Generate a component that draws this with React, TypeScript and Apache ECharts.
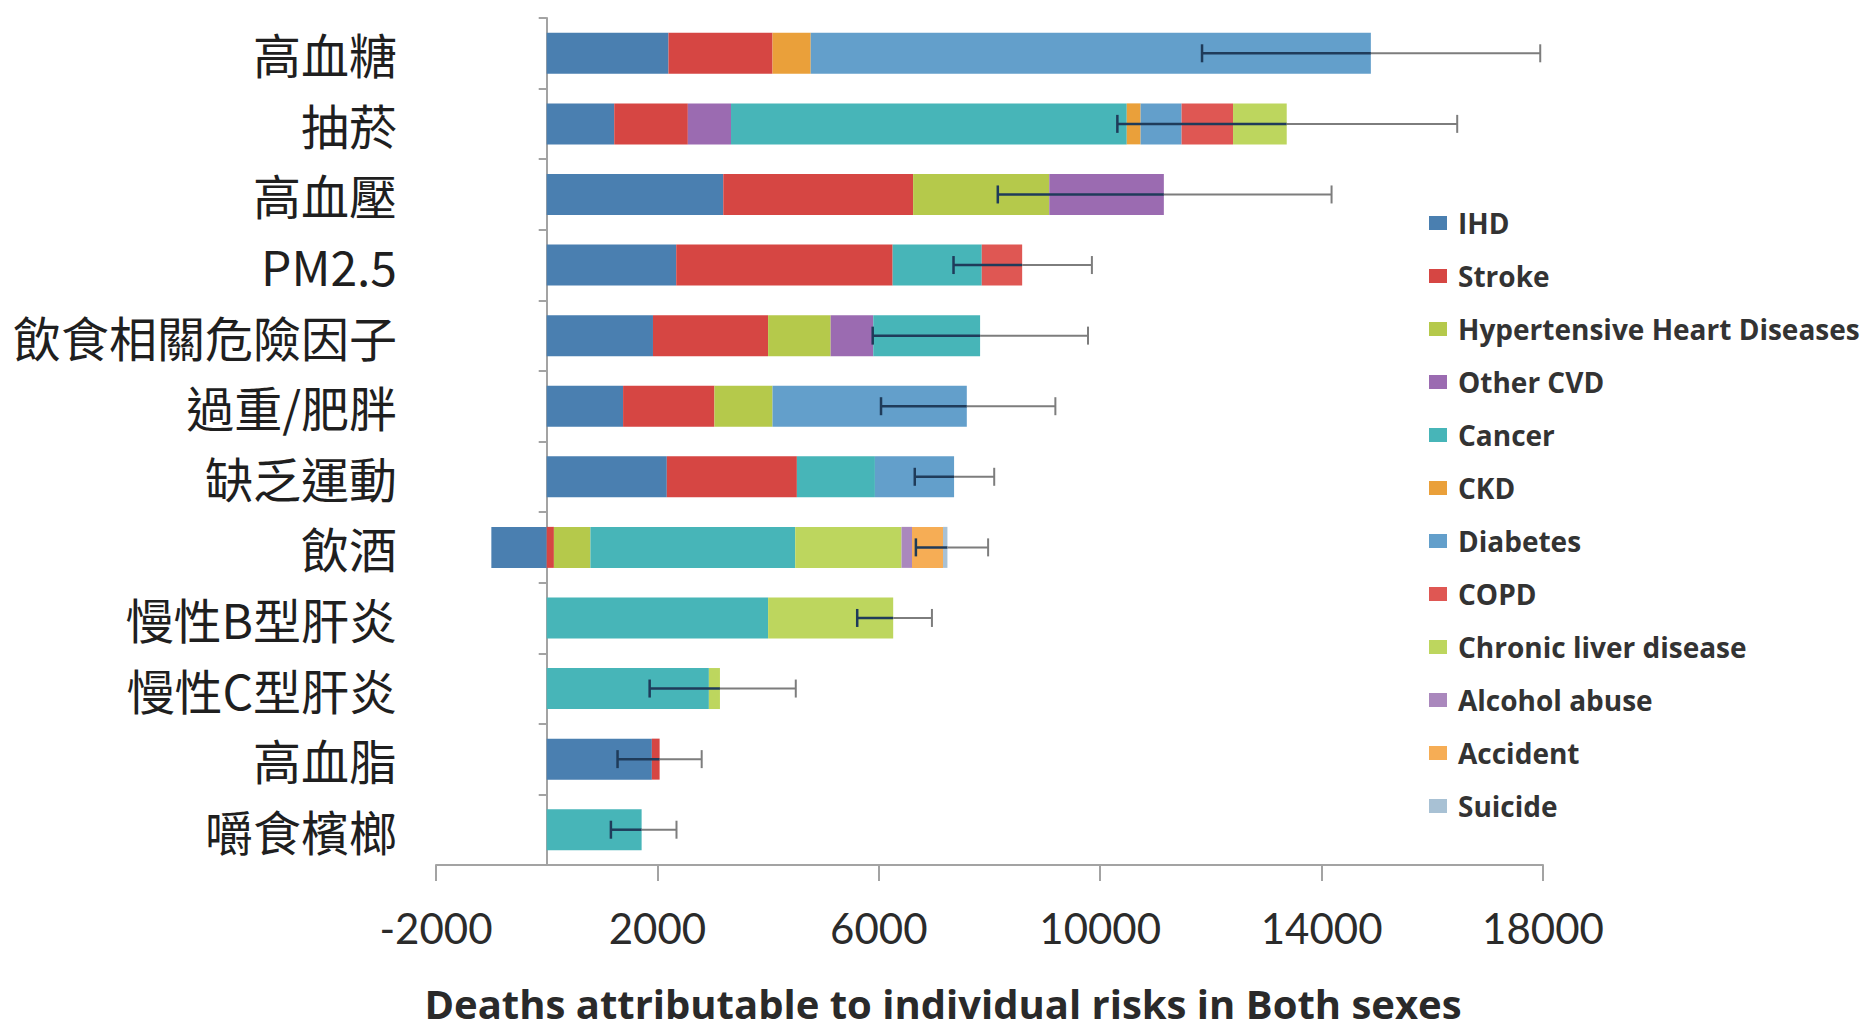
import React, { useEffect, useRef } from "react";
import * as echarts from "echarts";

const categories = [
  "高血糖",
  "抽菸",
  "高血壓",
  "PM2.5",
  "飲食相關危險因子",
  "過重/肥胖",
  "缺乏運動",
  "飲酒",
  "慢性B型肝炎",
  "慢性C型肝炎",
  "高血脂",
  "嚼食檳榔",
];

const causeNames = [
  "IHD",
  "Stroke",
  "Hypertensive Heart Diseases",
  "Other CVD",
  "Cancer",
  "CKD",
  "Diabetes",
  "COPD",
  "Chronic liver disease",
  "Alcohol abuse",
  "Accident",
  "Suicide",
];

const causeColors = [
  "#4a7fb0",
  "#d64643",
  "#b5c94b",
  "#9b6bb1",
  "#47b5b8",
  "#eaa03a",
  "#639fcb",
  "#df5753",
  "#bdd65e",
  "#aa88bd",
  "#f6ad55",
  "#a8c1d4",
];

const ihd = [2200, 1220, 3190, 2340, 1920, 1380, 2170, -1000, 0, 0, 1900, 0];
const stroke = [1880, 1330, 3430, 3910, 2080, 1650, 2350, 130, 0, 0, 140, 0];
const hhd = [0, 0, 2460, 0, 1130, 1050, 0, 660, 0, 0, 0, 0];
const otherCvd = [0, 780, 2070, 0, 770, 0, 0, 0, 0, 0, 0, 0];
const cancer = [0, 7150, 0, 1610, 1930, 0, 1410, 3700, 4000, 2930, 0, 1715];
const ckd = [690, 250, 0, 0, 0, 0, 0, 0, 0, 0, 0, 0];
const diabetes = [10120, 740, 0, 0, 0, 3510, 1430, 0, 0, 0, 0, 0];
const copd = [0, 930, 0, 730, 0, 0, 0, 0, 0, 0, 0, 0];
const chronicLiver = [0, 970, 0, 0, 0, 0, 0, 1920, 2260, 200, 0, 0];
const alcoholAbuse = [0, 0, 0, 0, 0, 0, 0, 190, 0, 0, 0, 0];
const accident = [0, 0, 0, 0, 0, 0, 0, 560, 0, 0, 0, 0];
const suicide = [0, 0, 0, 0, 0, 0, 0, 80, 0, 0, 0, 0];

const errLow = [11840, 10310, 8150, 7350, 5890, 6040, 6650, 6670, 5610, 1860, 1280, 1160];
const errHigh = [17950, 16450, 14180, 9850, 9780, 9190, 8085, 7975, 6960, 4500, 2800, 2345];

const xTicks = [-2000, 2000, 6000, 10000, 14000, 18000];

const seriesValues = [
  ihd,
  stroke,
  hhd,
  otherCvd,
  cancer,
  ckd,
  diabetes,
  copd,
  chronicLiver,
  alcoholAbuse,
  accident,
  suicide,
];

export default function App() {
  const ref = useRef<HTMLDivElement>(null);

  useEffect(() => {
    if (!ref.current) return;
    const chart = echarts.init(ref.current, null, { renderer: "svg" });

    const totals = categories.map((_, i) =>
      seriesValues.reduce((s, arr) => s + (arr[i] > 0 ? arr[i] : 0), 0)
    );

    const barSeries = causeNames.map((name, k) => ({
      name,
      type: "bar",
      stack: "total",
      barWidth: 41,
      itemStyle: { color: causeColors[k] },
      data: seriesValues[k],
      xAxisIndex: 0,
      yAxisIndex: 0,
    }));

    const errSeries = {
      type: "custom",
      name: "err",
      xAxisIndex: 0,
      yAxisIndex: 0,
      z: 10,
      encode: { x: [1, 2, 3], y: 0 },
      data: categories.map((_, i) => [i, errLow[i], errHigh[i], totals[i]]),
      renderItem: (params: any, api: any) => {
        const cat = api.value(0);
        const low = api.value(1);
        const high = api.value(2);
        const total = api.value(3);
        const pLow = api.coord([low, cat]);
        const pHigh = api.coord([high, cat]);
        const pTot = api.coord([total, cat]);
        const y = pLow[1];
        const h = 9;
        const dark = "#1f3b5a";
        const gray = "#7d7d7d";
        const mid = Math.min(pTot[0], pHigh[0]);
        const children: any[] = [
          {
            type: "line",
            shape: { x1: pLow[0], y1: y, x2: mid, y2: y },
            style: { stroke: dark, lineWidth: 2.5 },
          },
          {
            type: "line",
            shape: { x1: pLow[0], y1: y - h, x2: pLow[0], y2: y + h },
            style: { stroke: dark, lineWidth: 2.5 },
          },
        ];
        if (pHigh[0] > mid) {
          children.push({
            type: "line",
            shape: { x1: mid, y1: y, x2: pHigh[0], y2: y },
            style: { stroke: gray, lineWidth: 2 },
          });
        }
        children.push({
          type: "line",
          shape: { x1: pHigh[0], y1: y - h, x2: pHigh[0], y2: y + h },
          style: { stroke: pHigh[0] > mid ? gray : dark, lineWidth: 2 },
        });
        return { type: "group", children };
      },
    };

    chart.setOption({
      animation: false,
      backgroundColor: "#ffffff",
      grid: { left: 436, right: 329, top: 18, bottom: 165, containLabel: false },
      xAxis: {
        type: "value",
        min: -2000,
        max: 18000,
        interval: 4000,
        splitLine: { show: false },
        axisLine: { show: true, lineStyle: { color: "#a3a3a3", width: 2 } },
        axisTick: {
          show: true,
          length: 16,
          customValues: xTicks,
          lineStyle: { color: "#a3a3a3", width: 2 },
        },
        axisLabel: {
          customValues: xTicks,
          formatter: (v: number) => String(v),
          fontFamily: "Lato",
          fontSize: 42,
          color: "#2b2b2b",
          margin: 42,
        },
      },
      yAxis: [
        {
          type: "category",
          data: categories,
          inverse: true,
          position: "left",
          axisLine: { show: false, onZero: false },
          axisTick: { show: false },
          axisLabel: {
            fontFamily: "Noto Sans CJK TC",
            fontSize: 48,
            color: "#1f1f1f",
            margin: 39,
          },
        },
        {
          type: "category",
          data: categories,
          inverse: true,
          position: "left",
          axisLine: { show: true, onZero: true, lineStyle: { color: "#a3a3a3", width: 2 } },
          axisTick: { show: true, length: 8, lineStyle: { color: "#a3a3a3", width: 2 } },
          axisLabel: { show: false },
        },
      ],
      legend: {
        orient: "vertical",
        left: 1424,
        top: 203,
        data: causeNames,
        itemWidth: 18,
        itemHeight: 14,
        itemGap: 23,
        icon: "rect",
        textStyle: {
          fontFamily: "Open Sans",
          fontWeight: 700,
          fontSize: 28,
          lineHeight: 30,
          color: "#333333",
          padding: [0, 0, 0, 6],
        },
      },
      graphic: [
        {
          type: "text",
          x: 943,
          y: 1003,
          style: {
            text: "Deaths attributable to individual risks in Both sexes",
            fontFamily: "Open Sans",
            fontWeight: 700,
            fontSize: 40,
            lineHeight: 44,
            fill: "#2a2a2a",
            textAlign: "center",
            textVerticalAlign: "middle",
          },
        },
      ],
      series: [...barSeries, errSeries],
    });

    return () => chart.dispose();
  }, []);

  return (
    <div
      ref={ref}
      style={{ position: "fixed", left: 0, top: 0, width: 1872, height: 1030 }}
    />
  );
}
